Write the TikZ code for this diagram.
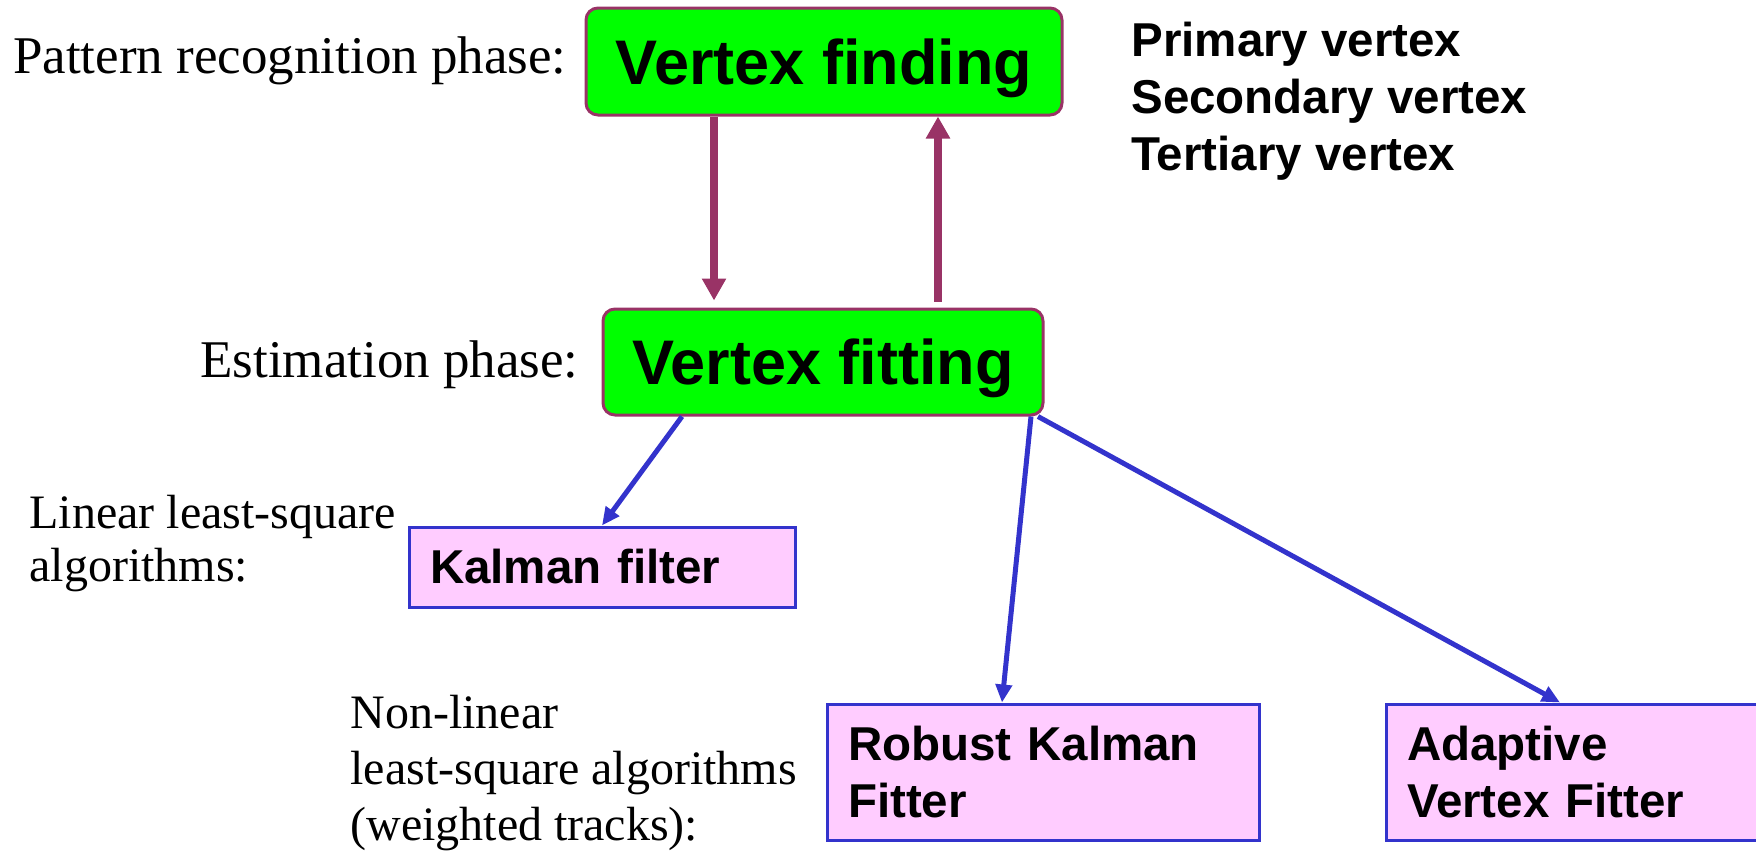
\documentclass[tikz,border=0pt]{standalone}
\usepackage{fontspec}
\setmainfont{Liberation Serif}
\setsansfont{Liberation Sans}
\usetikzlibrary{arrows.meta}
\definecolor{vfgreen}{HTML}{00FF00}
\definecolor{vfpurple}{HTML}{993366}
\definecolor{algoblue}{HTML}{3333CC}
\definecolor{algopink}{HTML}{FFCCFF}
\tikzset{
  phasebox/.style={draw=vfpurple, fill=vfgreen, line width=1.5pt, rounded corners=6pt,
    inner sep=0pt, text height=22.6pt, text depth=0pt,
    font=\sffamily\bfseries\fontsize{31.5}{38}\selectfont},
  algobox/.style={draw=algoblue, fill=algopink, line width=1.5pt, inner xsep=10.5pt,
    inner ysep=0pt, align=left, font=\sffamily\bfseries\fontsize{23.75}{28.5}\selectfont},
  phaselabel/.style={inner sep=0pt, font=\fontsize{26.5}{32}\selectfont},
  algolabel/.style={inner sep=0pt, align=left, anchor=north west},
  feedarrow/.style={draw=vfpurple, line width=4pt, -{Triangle[length=11pt,width=11.5pt]}},
  fitarrow/.style={draw=algoblue, line width=2.5pt, -{Triangle[length=9pt,width=8pt]}}
}
\begin{document}
\begin{tikzpicture}[x=0.5pt,y=-0.5pt]
\clip (0,0) rectangle (1756,852);
% phases
\node[phasebox, minimum width=238pt, minimum height=53.5pt] (find) at (824,61.5) {Vertex finding};
\node[phasebox, minimum width=220pt, minimum height=53pt] (fit) at (823,362) {Vertex fitting};
\node[phaselabel, anchor=base east] (findlbl) at (567,73) {Pattern recognition phase:};
\node[phaselabel, anchor=base east] (fitlbl) at (579,377) {Estimation phase:};
\node[algolabel, font=\fontsize{24}{26.5}\selectfont] (linlbl) at (29,495) {Linear least-square\\algorithms:};
\node[algolabel, font=\fontsize{24}{28}\selectfont] (nonlinlbl) at (350,695) {Non-linear\\least-square algorithms\\(weighted tracks):};
\node[algolabel, font=\sffamily\bfseries\fontsize{23.75}{28.5}\selectfont] (vtxlist) at (1131,22) {Primary vertex\\Secondary vertex\\Tertiary vertex};
% algorithms
\node[algobox, text width=172pt, minimum height=40pt] (kalman) at (602,567) {Kalman filter};
\node[algobox, text width=195pt, minimum height=68pt] (robust) at (1043,772) {Robust Kalman\\Fitter};
\node[algobox, text width=195pt, minimum height=68pt] (adaptive) at (1602,772) {Adaptive\\Vertex Fitter};
% connectors
\draw[feedarrow, shorten >=3.5pt] ([xshift=-55pt]find.south) -- ([xshift=-55pt]find.south |- fit.north);
\draw[feedarrow, shorten <=3pt] ([xshift=57.5pt]fit.north) -- ([xshift=57.5pt]fit.north |- find.south);
\draw[fitarrow] ([xshift=-70.5pt]fit.south) -- (kalman.north);
\draw[fitarrow] ([xshift=104pt]fit.south) -- ([xshift=-20.5pt]robust.north);
\draw[fitarrow] ([xshift=107.5pt]fit.south) -- ([xshift=-21pt]adaptive.north);
\end{tikzpicture}
\end{document}
